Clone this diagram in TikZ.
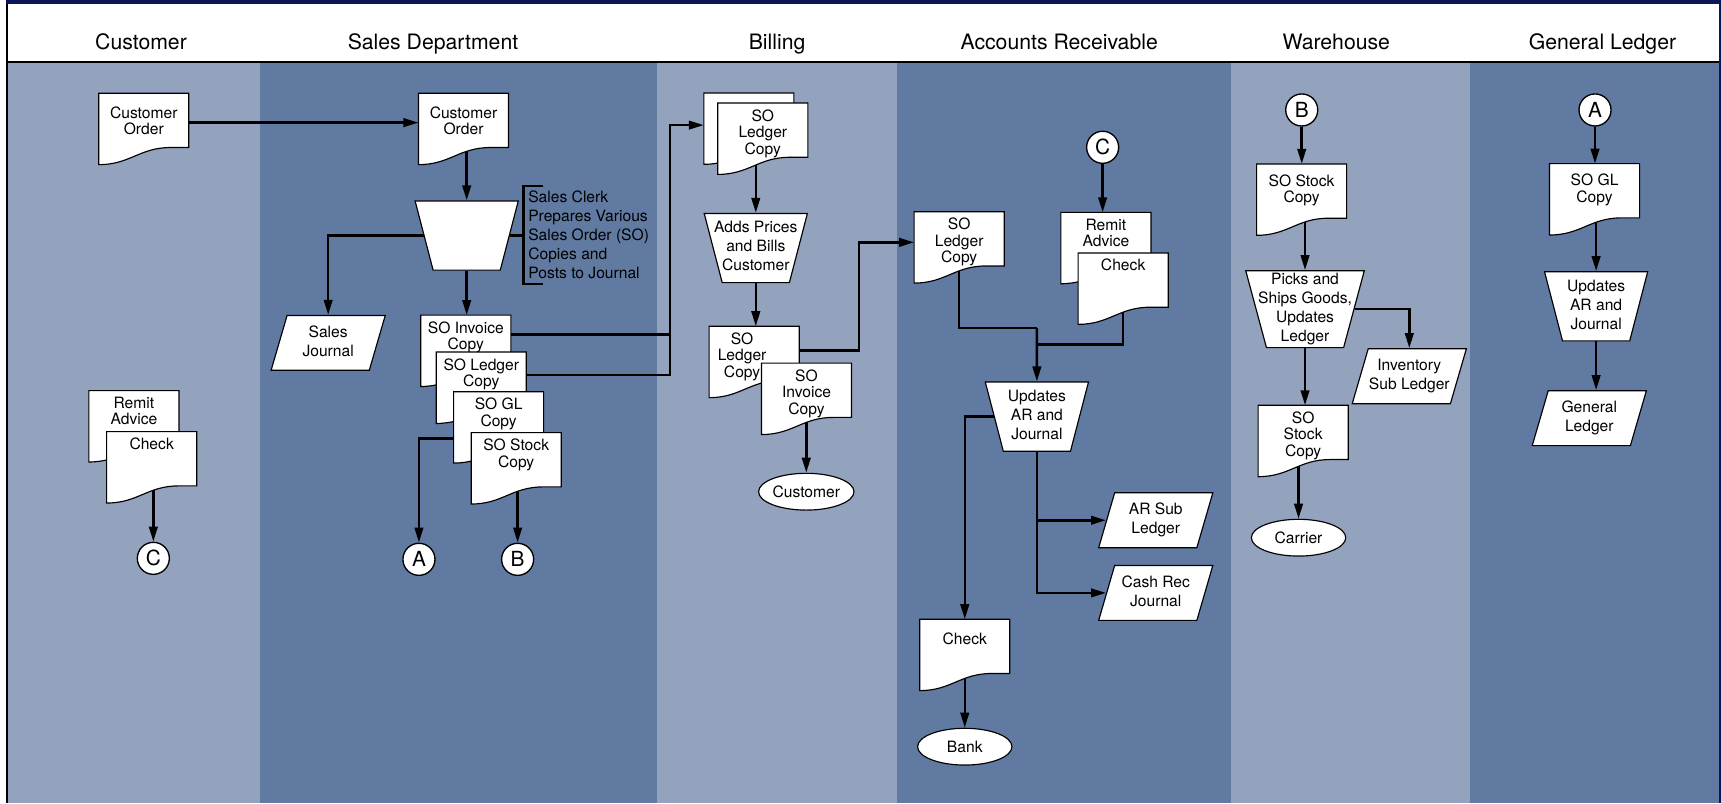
\documentclass[tikz,border=0pt]{standalone}
\usepackage{fontspec}
\setmainfont{TeX Gyre Heros}
\usetikzlibrary{arrows.meta,positioning,shapes.geometric,backgrounds}
\definecolor{navy}{RGB}{10,22,88}
\definecolor{lanelight}{RGB}{147,163,189}
\definecolor{lanedark}{RGB}{96,122,161}
\newdimen\pdL \newdimen\pdR \newdimen\pdT \newdimen\pdB
\newdimen\pdY \newdimen\pdXa \newdimen\pdXb \newdimen\pdXc
% lines that may run past the slanted sides of a box
\newcommand{\widelines}[1]{\makebox[1pt]{\raisebox{-1.5pt}[1pt][0pt]{\begin{tabular}{@{}c@{}}#1\end{tabular}}}}
\makeatletter
% document symbol with a wavy foot
\pgfdeclareshape{paperdoc}{%
  \inheritsavedanchors[from=rectangle]%
  \inheritanchorborder[from=rectangle]%
  \inheritanchor[from=rectangle]{center}%
  \inheritanchor[from=rectangle]{north}%
  \inheritanchor[from=rectangle]{south}%
  \inheritanchor[from=rectangle]{east}%
  \inheritanchor[from=rectangle]{west}%
  \inheritanchor[from=rectangle]{north east}%
  \inheritanchor[from=rectangle]{north west}%
  \inheritanchor[from=rectangle]{south east}%
  \inheritanchor[from=rectangle]{south west}%
  \inheritanchor[from=rectangle]{text}%
  \inheritanchor[from=rectangle]{base}%
  \inheritanchor[from=rectangle]{mid}%
  \backgroundpath{%
    \southwest \pdL=\pgf@x \pdB=\pgf@y
    \northeast \pdR=\pgf@x \pdT=\pgf@y
    \pdY=\pdT \advance\pdY by-\pdB \pdY=.24\pdY \advance\pdY by\pdB
    \pdXa=\pdR \advance\pdXa by-\pdL
    \pdXb=.45\pdXa \advance\pdXb by\pdL
    \pdXc=.35\pdXa \advance\pdXc by\pdL
    \pdXa=.8\pdXa \advance\pdXa by\pdL
    \pgfpathmoveto{\pgfqpoint{\pdL}{\pdT}}%
    \pgfpathlineto{\pgfqpoint{\pdR}{\pdT}}%
    \pgfpathlineto{\pgfqpoint{\pdR}{\pdY}}%
    \pgfpathlineto{\pgfqpoint{\pdXa}{\pdY}}%
    \pgfpathcurveto{\pgfqpoint{\pdXb}{\pdY}}{\pgfqpoint{\pdXc}{\pdB}}{\pgfqpoint{\pdL}{\pdB}}%
    \pgfpathclose
  }%
}
\makeatother
\tikzset{
  >={Triangle[length=7.8pt,width=4.4pt]},
  flow/.style={->,line width=1.3pt},
  wire/.style={line width=1.3pt},
  doc w/.store in=\docw, doc h/.store in=\doch,
  doc pad/.store in=\docpad, doc xoff/.store in=\docxoff,
  doc w=1.62cm, doc h=1.28cm, doc pad=3pt, doc xoff=0pt,
  doc/.style={shape=paperdoc,draw,fill=white,line width=0.6pt,inner sep=0pt,
    font=\fontsize{8.1}{8.6}\selectfont,
    execute at begin node={\begin{minipage}[c][\doch][t]{\docw}\centering
      \advance\rightskip by\docxoff\relax\vspace*{\docpad}},
    execute at end node={\end{minipage}}},
  proc/.style={trapezium,trapezium left angle=105,trapezium right angle=105,
    trapezium stretches=true,draw,fill=white,line width=0.6pt,inner sep=0pt,
    minimum width=1.88cm,minimum height=1.26cm,font=\fontsize{8.1}{9.8}\selectfont},
  io/.style={trapezium,trapezium left angle=79,trapezium right angle=101,
    trapezium stretches=true,draw,fill=white,line width=0.6pt,inner sep=0pt,
    minimum width=2.08cm,minimum height=1cm,font=\fontsize{8.1}{9.8}\selectfont},
  term/.style={ellipse,draw,fill=white,line width=0.6pt,inner sep=0pt,
    minimum width=1.72cm,minimum height=0.67cm,font=\fontsize{8.1}{9.8}\selectfont},
  conn/.style={circle,draw,fill=white,line width=0.7pt,inner sep=0pt,
    minimum size=0.584cm,font=\fontsize{10.8}{12}\selectfont},
  note/.style={anchor=west,align=left,inner xsep=0.08cm,inner ysep=0.09cm,
    font=\fontsize{8.1}{9.8}\selectfont},
  lanetitle/.style={anchor=base,font=\fontsize{11}{13}\selectfont}
}
\begin{document}
\begin{tikzpicture}[x=0.02cm,y=-0.02cm]
  \useasboundingbox (0,0) rectangle (1568,732);
  \begin{scope}[on background layer]
    \fill[white] (0,0) rectangle (1568,732);
    \foreach \xa/\xb/\shade in {7.3/237/lanelight,237/598.3/lanedark,598.3/817/lanelight,
      817/1121.5/lanedark,1121.5/1339.3/lanelight,1339.3/1566/lanedark}
      \fill[\shade] (\xa,57.4) rectangle (\xb,732);
    \fill[white] (7.3,3.6) rectangle (1566,55.6);
    \fill[navy] (5.5,0) rectangle (1568,3.6);
    \fill[navy] (1566,0) rectangle (1568,732);
    \fill (5.5,3.6) rectangle (7.3,732);
    \fill (7.3,55.6) rectangle (1566,57.4);
  \end{scope}
  \foreach \x/\title [count=\i] in {128.5/Customer,394.5/Sales Department,708/Billing,
    965/Accounts Receivable,1217.5/Warehouse,1460/General Ledger}
    \node[lanetitle] (title\i) at (\x,45) {\title};

  % customer
  \node[doc,doc pad=6.6pt] (co1) at (131,117.5) {Customer\\Order};
  \node[doc] (crem) at (122,388.4) {Remit\\Advice};
  \node[doc] (cchk) at (138.2,425.8) {Check};
  \node[conn] (cc) at (139.7,508.7) {C};

  % sales department
  \node[doc,doc pad=6.6pt] (co2) at (422.3,117.5) {Customer\\Order};
  \node[proc] (strap) at (425.2,214.6) {\widelines{}};
  \node[note] (clerk) at (477,214) {Sales Clerk\\Prepares Various\\Sales Order (SO)\\Copies and\\Posts to Journal};
  \node[io] (sj) at (299,312.4) {\widelines{Sales\\Journal}};
  \node[doc] (sinv) at (424.4,319.6) {SO Invoice\\Copy};
  \node[doc] (sled) at (438.5,353.3) {SO Ledger\\Copy};
  \node[doc] (sgl) at (454.3,389.4) {SO GL\\Copy};
  \node[doc] (sstk) at (470.3,426.7) {SO Stock\\Copy};
  \node[conn] (sa) at (381.7,509.6) {A};
  \node[conn] (sb) at (471.6,509.6) {B};
  \coordinate (bjoin) at (610.4,114);

  % billing
  \node[doc] (bback) at (682.3,117.2) {\mbox{}};
  \node[doc] (bfront) at (695,126.4) {SO\\Ledger\\Copy};
  \node[proc] (btrap) at (688.6,226) {\widelines{Adds Prices\\and Bills\\Customer}};
  \node[doc,doc xoff=0.44cm] (bled) at (687.1,329.8) {SO\\Ledger\\Copy};
  \node[doc] (binv) at (734.8,363.4) {SO\\Invoice\\Copy};
  \node[term] (cust) at (734.6,448) {Customer};
  \coordinate (cjoin) at (782.6,220.8);

  % accounts receivable
  \node[doc] (arled) at (873.9,225.4) {SO\\Ledger\\Copy};
  \node[conn] (arc) at (1004.6,134.2) {C};
  \node[doc] (arrem) at (1007.6,226) {Remit\\Advice};
  \node[doc] (archk) at (1023.3,263) {Check};
  \node[proc] (artrap) at (944.7,379.6) {\widelines{Updates\\AR and\\Journal}};
  \node[io] (arsub) at (1053,474) {\widelines{AR Sub\\Ledger}};
  \node[io] (cashrec) at (1053,540.2) {\widelines{Cash Rec\\Journal}};
  \node[doc,doc pad=6.6pt] (archk2) at (879,596.7) {Check};
  \node[term] (bank) at (879,680.3) {Bank};
  \coordinate (arj) at (944.7,299);
  \coordinate (arj2) at (944.7,314);

  % warehouse
  \node[conn] (wb) at (1186,100.2) {B};
  \node[doc,doc pad=5.2pt] (wst1) at (1185.9,181.9) {SO Stock\\Copy};
  \node[proc,minimum width=2.16cm,minimum height=1.4cm] (wtrap) at (1189,281.7) {\widelines{Picks and\\Ships Goods,\\Updates\\Ledger}};
  \node[io] (inv) at (1284,342.8) {\widelines{Inventory\\Sub Ledger}};
  \node[doc] (wst2) at (1187.3,401.8) {SO\\Stock\\Copy};
  \node[term] (carrier) at (1183.1,489.9) {Carrier};

  % general ledger
  \node[conn] (ga) at (1453.2,100.2) {A};
  \node[doc,doc pad=5.2pt] (gcopy) at (1452.8,181.6) {SO GL\\Copy};
  \node[proc] (gtrap) at (1454.2,279.1) {\widelines{Updates\\AR and\\Journal}};
  \node[io] (gl) at (1448,381) {\widelines{General\\Ledger}};

  \draw[wire] ([xshift=0.36cm]clerk.north west) -- (clerk.north west) -- (clerk.south west) -- ([xshift=0.36cm]clerk.south west);

  \begin{scope}[on background layer]
    \draw[flow] (co1.8) -- (co2.172);
    \draw[flow] (cc.north |- cchk.center) -- (cc.north);
    \draw[flow] (strap.north |- co2.center) -- (strap.north);
    \draw[flow] (strap.west) -| (sj.north);
    \draw[wire] (strap.east) -- (strap.east -| clerk.west);
    \draw[flow] (strap.south) -- (strap.south |- sinv.north);
    \draw[wire] (sinv.20) -| (bjoin);
    \draw[flow] (sled.16) -| (bjoin) -- (bjoin -| bback.west);
    \draw[flow] (sgl.194) -| (sa.north);
    \draw[flow] (sb |- sstk.center) -- (sb.north);
    \draw[flow] (btrap.north |- bfront.center) -- (btrap.north);
    \draw[flow] (btrap.south) -- (btrap.south |- bled.north);
    \draw[flow] (cust.north |- binv.center) -- (cust.north);
    \draw[flow] (bled.14) -| (cjoin) -- (cjoin -| arled.west);
    \draw[flow] (arc.south) -- (arc.south |- arrem.north);
    \draw[wire] (arled.center) |- (arj);
    \draw[wire] (archk.center) |- (arj2);
    \draw[flow] (arj) -- (artrap.north);
    \draw[flow] (artrap.west) -| (archk2.north);
    \draw[flow] (artrap.south) |- (arsub.west);
    \draw[flow] (artrap.south) |- (cashrec.west);
    \draw[flow] (bank.north |- archk2.center) -- (bank.north);
    \draw[flow] (wb.south) -- (wb.south |- wst1.north);
    \draw[flow] (wtrap.north |- wst1.center) -- (wtrap.north);
    \draw[flow] (wtrap.east) -| (inv.north);
    \draw[flow] (wtrap.south) -- (wtrap.south |- wst2.north);
    \draw[flow] (carrier.north |- wst2.center) -- (carrier.north);
    \draw[flow] (ga.south) -- (ga.south |- gcopy.north);
    \draw[flow] (gtrap.north |- gcopy.center) -- (gtrap.north);
    \draw[flow] (gtrap.south) -- (gtrap.south |- gl.north);
  \end{scope}
\end{tikzpicture}
\end{document}
